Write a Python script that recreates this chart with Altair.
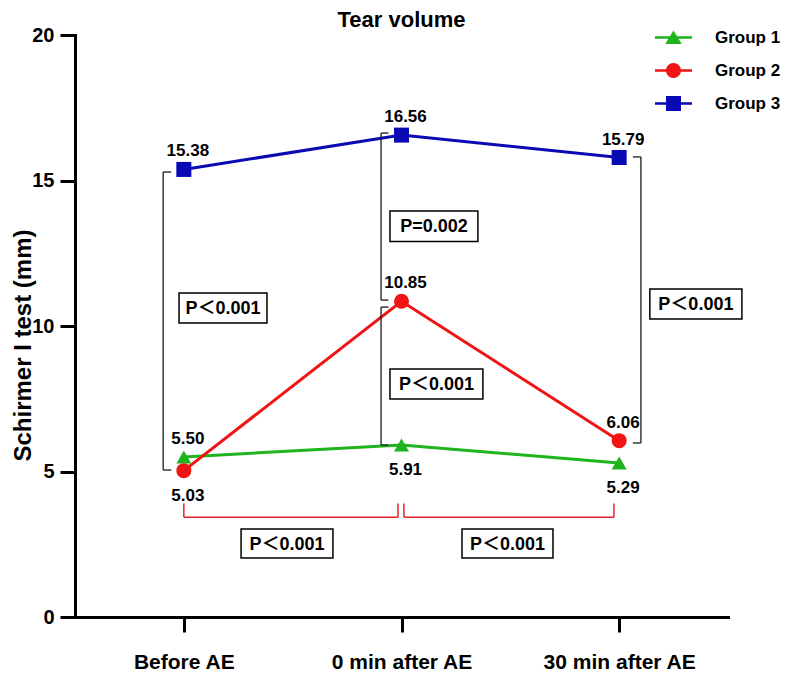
import altair as alt
import pandas as pd

# ---------------- data ----------------
categories = ["Before AE", "0 min after AE", "30 min after AE"]
groups = ["Group 1", "Group 2", "Group 3"]
group1 = [5.50, 5.91, 5.29]
group2 = [5.03, 10.85, 6.06]
group3 = [15.38, 16.56, 15.79]
label_side1 = ["above", "below", "below"]
label_side2 = ["below", "above", "above"]
label_side3 = ["above", "above", "above"]

# significance annotations (x in category index units, y in mm)
# vertical black brackets: x of the spine, x where the end ticks stop, low end, high end
bk_x = [-0.095, 0.906, 0.906, 2.100]
bk_tick = [-0.058, 0.940, 0.940, 2.063]
bk_low = [5.05, 10.89, 5.91, 5.98]
bk_high = [15.29, 16.63, 10.65, 15.81]

red_bracket_left = [0.0, 1.011]
red_bracket_right = [0.984, 1.976]
red_bracket_base = 3.43
red_bracket_top = 3.90

box_x1 = [-0.022, 0.947, 0.947, 2.141, 0.263, 1.278]
box_x2 = [0.382, 1.351, 1.374, 2.564, 0.685, 1.696]
box_y1 = [10.10, 12.90, 7.49, 10.24, 2.03, 2.03]
box_y2 = [11.13, 13.95, 8.52, 11.27, 3.02, 3.02]
box_text = ["P＜0.001", "P=0.002", "P＜0.001", "P＜0.001", "P＜0.001", "P＜0.001"]

colors = ["#1DB41D", "#F01414", "#0A0AB4"]
shapes = ["triangle-up", "circle", "square"]
bar = "M-2.47,-0.16H2.47V0.16H-2.47Z"
legend_paths = [
    bar + "M0,-0.95L1.1,0.85H-1.1Z",
    bar + "M1,0A1,1,0,1,1,-1,0A1,1,0,1,1,1,0Z",
    bar + "M-1,-1H1V1H-1Z",
]

FONT = "Liberation Sans"

# ---------------- tables ----------------
rows = []
for g, vals, sides in [(groups[0], group1, label_side1),
                       (groups[1], group2, label_side2),
                       (groups[2], group3, label_side3)]:
    for i, (v, s) in enumerate(zip(vals, sides)):
        rows.append({"group": g, "idx": i, "time": categories[i], "value": v, "side": s})
df = pd.DataFrame(rows)

segs = []
for xb, xt, lo, hi in zip(bk_x, bk_tick, bk_low, bk_high):
    segs.append({"x": xb, "x2": xb, "y": lo, "y2": hi})
    segs.append({"x": xb, "x2": xt, "y": lo, "y2": lo})
    segs.append({"x": xb, "x2": xt, "y": hi, "y2": hi})
seg_df = pd.DataFrame(segs)

red = []
for xl, xr in zip(red_bracket_left, red_bracket_right):
    red.append({"x": xl, "x2": xr, "y": red_bracket_base, "y2": red_bracket_base})
    red.append({"x": xl, "x2": xl, "y": red_bracket_base, "y2": red_bracket_top})
    red.append({"x": xr, "x2": xr, "y": red_bracket_base, "y2": red_bracket_top})
red_df = pd.DataFrame(red)

box_df = pd.DataFrame({"x": box_x1, "x2": box_x2, "y": box_y1, "y2": box_y2, "text": box_text})
box_df["xc"] = (box_df["x"] + box_df["x2"]) / 2
box_df["yc"] = (box_df["y"] + box_df["y2"]) / 2

# ---------------- scales / axes ----------------
xscale = alt.Scale(domain=[-0.5, 2.5], nice=False, zero=False)
yscale = alt.Scale(domain=[0, 20], nice=False, zero=False)
cscale = alt.Scale(domain=groups, range=colors)
label_expr = "[" + ",".join("'" + c + "'" for c in categories) + "][datum.value]"

xaxis = alt.Axis(values=[0, 1, 2], labelExpr=label_expr, title=None, grid=False,
                 domainWidth=3, tickWidth=3, tickSize=15, labelPadding=36,
                 labelBaseline="alphabetic",
                 labelFontSize=21, labelFlush=False, labelOverlap=False)
yaxis = alt.Axis(values=[0, 5, 10, 15, 20], title="Schirmer I test (mm)", grid=False,
                 domainWidth=3, tickWidth=3, tickSize=15, labelPadding=6,
                 labelFontSize=20, titleFontSize=24, titleAngle=270,
                 titleAlign="center", titleBaseline="middle", titleX=-52, titleY=310)


def X(field):
    return alt.X(field, scale=xscale, axis=xaxis)


def Y(field):
    return alt.Y(field, scale=yscale, axis=yaxis)


base = alt.Chart(df)

lines = base.mark_line(strokeWidth=3).encode(
    x=X("idx:Q"), y=Y("value:Q"),
    color=alt.Color("group:N", scale=cscale, legend=None),
    detail="group:N",
)

points = base.mark_point(filled=True, size=225, opacity=1).encode(
    x=X("idx:Q"), y=Y("value:Q"),
    color=alt.Color("group:N", scale=cscale, legend=None),
    shape=alt.Shape("group:N", scale=alt.Scale(domain=groups, range=shapes), legend=None),
)

lab_above = base.transform_filter("datum.side == 'above'").mark_text(
    dy=-13, dx=4, baseline="alphabetic", fontSize=17, fontWeight="bold", font=FONT, color="black"
).encode(x=X("idx:Q"), y=Y("value:Q"), text=alt.Text("value:Q", format=".2f"))

lab_below = base.transform_filter("datum.side == 'below'").mark_text(
    dy=30, dx=4, baseline="alphabetic", fontSize=17, fontWeight="bold", font=FONT, color="black"
).encode(x=X("idx:Q"), y=Y("value:Q"), text=alt.Text("value:Q", format=".2f"))

brackets = alt.Chart(seg_df).mark_rule(color="#1a1a1a", strokeWidth=1.3).encode(
    x=X("x:Q"), x2="x2:Q", y=Y("y:Q"), y2="y2:Q",
)
red_brackets = alt.Chart(red_df).mark_rule(color="#E8202A", strokeWidth=1.5).encode(
    x=X("x:Q"), x2="x2:Q", y=Y("y:Q"), y2="y2:Q",
)
boxes = alt.Chart(box_df).mark_rect(fill="white", stroke="black", strokeWidth=1.5).encode(
    x=X("x:Q"), x2="x2:Q", y=Y("y:Q"), y2="y2:Q",
)
box_labels = alt.Chart(box_df).mark_text(
    fontSize=18, fontWeight="bold", font=FONT + ", Noto Sans CJK SC", color="black", baseline="middle", dy=1
).encode(x=X("xc:Q"), y=Y("yc:Q"), text="text:N")

leg_kw = dict(orient="none", legendX=590, legendY=-6, title=None, labelFontSize=17,
              labelFont=FONT, labelFontWeight="bold", labelColor="black", symbolSize=225,
              symbolStrokeWidth=0, labelOffset=33, rowPadding=15, padding=0)
legend_layer = alt.Chart(pd.DataFrame({"group": groups})).transform_filter("false").mark_point(
    filled=True, opacity=1
).encode(
    color=alt.Color("group:N", scale=cscale, legend=alt.Legend(**leg_kw)),
    shape=alt.Shape("group:N", scale=alt.Scale(domain=groups, range=legend_paths),
                    legend=alt.Legend(**leg_kw)),
)

chart = alt.layer(
    lines, points, brackets, red_brackets, boxes, box_labels, lab_above, lab_below, legend_layer
).resolve_scale(color="independent", shape="independent").properties(
    width=653, height=582,
    autosize=alt.AutoSizeParams(type="none"),
    padding={"left": 67, "top": 27, "right": 53, "bottom": 55},
    title=alt.TitleParams("Tear volume", fontSize=22, font=FONT, fontWeight="bold",
                          color="black", anchor="middle", frame="group", offset=-7),
).configure_view(stroke=None).configure_axis(
    domainColor="black", tickColor="black", labelColor="black", titleColor="black",
    labelFont=FONT, titleFont=FONT, labelFontWeight="bold", titleFontWeight="bold",
    domainCap="square",
)

chart.save("out.html", embed_options={"renderer": "svg", "actions": False})
